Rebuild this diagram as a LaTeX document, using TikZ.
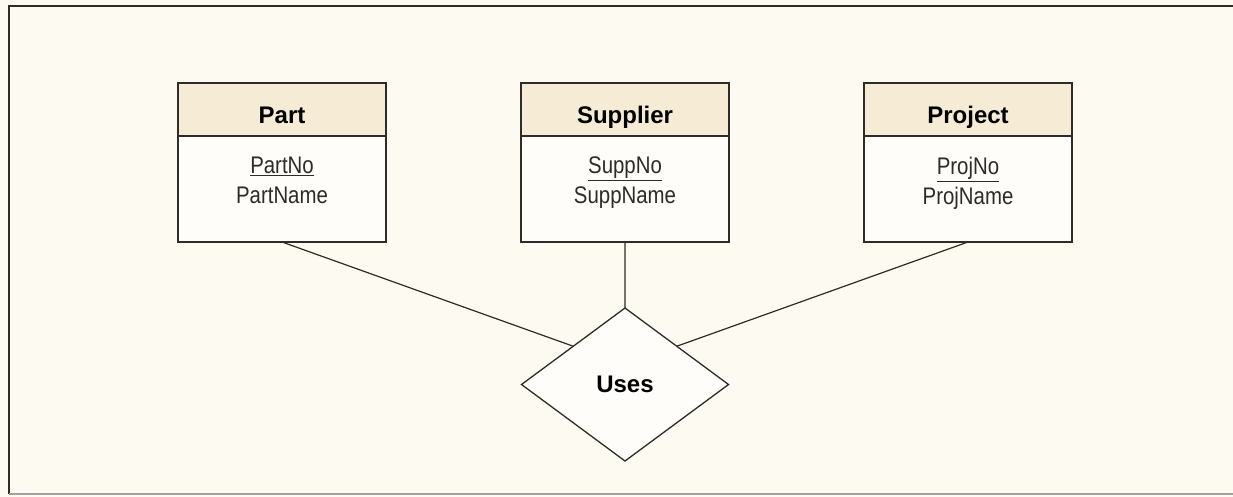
\documentclass[tikz,border=0pt]{standalone}
\usepackage{fontspec}
\setmainfont{Liberation Sans}[FakeStretch=0.85]
\newfontfamily\headfont{Liberation Sans}
\usetikzlibrary{shapes.geometric, positioning}
\definecolor{paper}{HTML}{FCFAF1}
\definecolor{headfill}{HTML}{F6ECD6}
\definecolor{ink}{HTML}{2E2B28}
\tikzset{
entityhead/.style={rectangle, draw=ink, line width=1.3pt, fill=headfill, inner sep=0pt, outer sep=0pt,
  minimum width=208pt, minimum height=53pt, text height=28pt, text depth=0pt,
  font=\headfont\bfseries\fontsize{24}{28}\selectfont}, % title part of an entity
entitybody/.style={rectangle, draw=ink, line width=1.3pt, fill=white!60!paper, inner sep=0pt, outer sep=0pt,
  minimum width=208pt, minimum height=106pt}, % attribute part of an entity
attrs/.style={align=center, inner sep=0pt, anchor=north, text=ink, font=\fontsize{24}{30}\selectfont},
relation/.style={diamond, draw=ink, line width=1.3pt, fill=white!60!paper, inner sep=0pt, outer sep=0pt,
  minimum width=207pt, minimum height=153pt, font=\headfont\bfseries\fontsize{24}{28}\selectfont},
link/.style={draw=ink, line width=1.2pt},
}
\begin{document}
\begin{tikzpicture}[x=1pt, y=-1pt]
    \useasboundingbox (0,0) rectangle (1233,497);
    \fill[paper] (0,0) rectangle (1233,497);
    \draw[ink, line width=2pt] (1233,6) -- (9,6) -- (9,494);
    \draw[ink!45, line width=1.5pt] (9,494) -- (1233,494);

    \node[entityhead] at (282,109.5) (parthead) {Part};
    \node[entitybody, below=0pt of parthead] (partbody) {};
    \node[entityhead, right=135pt of parthead] (supphead) {Supplier};
    \node[entitybody, below=0pt of supphead] (suppbody) {};
    \node[entityhead, right=135pt of supphead] (projhead) {Project};
    \node[entitybody, below=0pt of projhead] (projbody) {};

    \node[attrs] at ([yshift=-21pt]partbody.north) (partattrs) {\underline{PartNo}\\PartName};
    \node[attrs] at ([yshift=-21pt]suppbody.north) (suppattrs) {\underline{SuppNo}\\SuppName};
    \node[attrs] at ([yshift=-21pt]projbody.north) (projattrs) {\underline{ProjNo}\\ProjName};

    \node[relation, below=66pt of suppbody] (uses) {Uses};

    \draw[link] (partbody.south) -- (uses.north west)
    (suppbody.south) -- (uses.north)
    (projbody.south) -- (uses.north east);
\end{tikzpicture}
\end{document}
